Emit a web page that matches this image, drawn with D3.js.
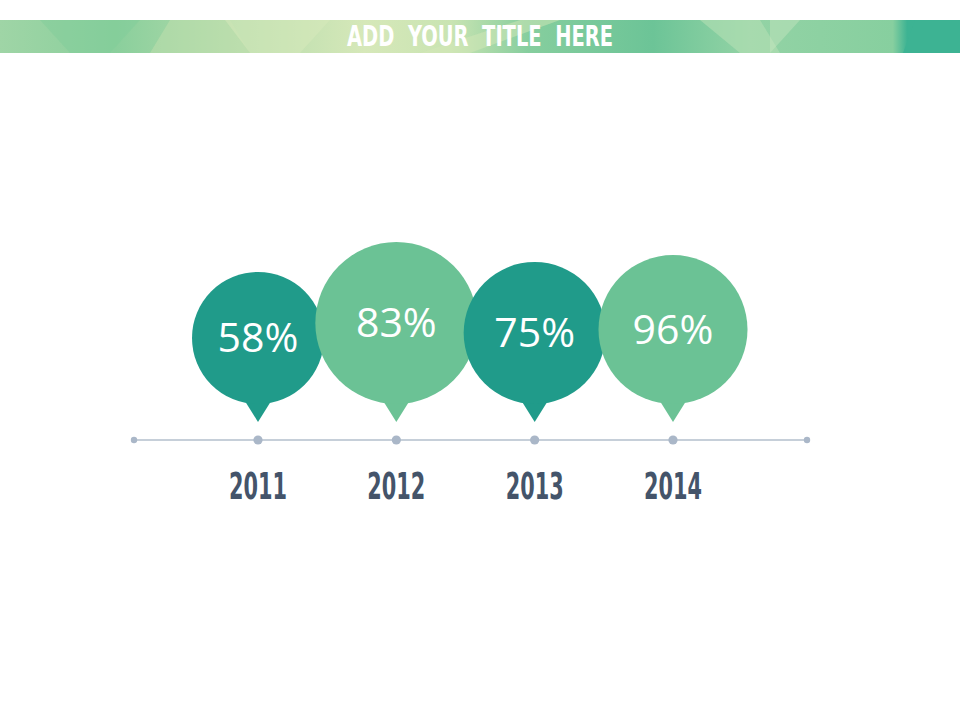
<!DOCTYPE html>
<html>
<head>
<meta charset="utf-8">
<script src="https://cdn.jsdelivr.net/npm/d3@7"></script>
<style>
  html, body { margin: 0; padding: 0; background: #ffffff; }
  svg { display: block; }
</style>
</head>
<body>
<svg id="chart" width="960" height="720"></svg>
<script>
// ---- data ----
const years = [2011, 2012, 2013, 2014];
const values = [58, 83, 75, 96];
const valueLabels = ["58%", "83%", "75%", "96%"];
const title = "ADD  YOUR  TITLE  HERE";

// ---- layout / style ----
const W = 960, H = 720;
const bubbleRadii = [66, 81, 71, 74.5];
const bubbleColors = ["#209b8a", "#6bc295", "#209b8a", "#6bc295"];
const axisY = 440, tipY = 422, tipH = 18, tipHalf = 15;

const svg = d3.select("#chart");

// ---- banner ----
const defs = svg.append("defs");
const grad = defs.append("linearGradient").attr("id", "bannerGrad")
  .attr("x1", "0%").attr("x2", "100%").attr("y1", "0%").attr("y2", "0%");
[
  [0, "#9fd5a6"], [0.12, "#8acf9c"], [0.25, "#b5dcac"], [0.38, "#d6e8b9"],
  [0.47, "#c9e4b2"], [0.55, "#86ce9e"], [0.68, "#6cc497"], [0.78, "#93d3a5"],
  [0.93, "#87cf9f"], [0.945, "#3db393"], [1, "#3bb393"]
].forEach(([o, c]) => grad.append("stop").attr("offset", o).attr("stop-color", c));

svg.append("rect").attr("x", 0).attr("y", 20).attr("width", W).attr("height", 33)
  .attr("fill", "url(#bannerGrad)");

const facets = [
  { pts: [[40, 20], [140, 20], [110, 53], [70, 53]], fill: "#7fcb98", op: 0.45 },
  { pts: [[150, 53], [170, 20], [230, 20], [250, 53]], fill: "#c2e0ae", op: 0.5 },
  { pts: [[225, 20], [330, 20], [300, 53], [250, 53]], fill: "#d8e9bb", op: 0.5 },
  { pts: [[420, 53], [520, 20], [560, 20], [470, 53]], fill: "#d4e7b8", op: 0.5 },
  { pts: [[700, 20], [760, 20], [780, 53], [740, 53]], fill: "#b4dfb4", op: 0.6 },
  { pts: [[770, 20], [800, 20], [770, 53]], fill: "#cde8c4", op: 0.4 },
  { pts: [[915, 20], [960, 20], [960, 53], [903, 53]], fill: "#3db393", op: 1 }
];
svg.append("g").selectAll("polygon").data(facets).join("polygon")
  .attr("points", d => d.pts.map(p => p.join(",")).join(" "))
  .attr("fill", d => d.fill).attr("opacity", d => d.op);

svg.append("text")
  .attr("x", 480).attr("y", 46)
  .attr("text-anchor", "middle")
  .attr("font-family", "'Liberation Sans Narrow', 'DejaVu Sans Condensed', sans-serif")
  .attr("font-weight", "bold")
  .attr("font-size", 28)
  .attr("fill", "#ffffff")
  .attr("textLength", 266).attr("lengthAdjust", "spacingAndGlyphs")
  .style("white-space", "pre")
  .text(title);

// ---- scales ----
const x = d3.scaleLinear().domain([2011, 2014]).range([258, 673]);
const axisEnds = [134, 807];

// ---- axis ----
svg.append("line")
  .attr("x1", axisEnds[0]).attr("x2", axisEnds[1])
  .attr("y1", axisY).attr("y2", axisY)
  .attr("stroke", "#b3bfcd").attr("stroke-width", 1.5);

svg.append("g").selectAll("circle.end").data(axisEnds).join("circle")
  .attr("cx", d => d).attr("cy", axisY).attr("r", 3.2).attr("fill", "#aab7c8");

svg.append("g").selectAll("circle.tick").data(years).join("circle")
  .attr("cx", d => x(d)).attr("cy", axisY).attr("r", 4.6).attr("fill", "#aab7c8");

svg.append("g").selectAll("text").data(years).join("text")
  .attr("x", d => x(d)).attr("y", 499)
  .attr("text-anchor", "middle")
  .attr("font-family", "'Liberation Sans Narrow', 'DejaVu Sans Condensed', sans-serif")
  .attr("font-weight", "bold")
  .attr("font-size", 37)
  .attr("fill", "#44546a")
  .attr("textLength", 58).attr("lengthAdjust", "spacingAndGlyphs")
  .text(d => d);

// ---- bubbles ----
const bubbles = years.map((yr, i) => {
  const r = bubbleRadii[i];
  const cx = x(yr);
  const cy = tipY - tipH - r;
  return { yr, v: values[i], label: valueLabels[i], r, cx, cy, color: bubbleColors[i] };
});

const bg = svg.append("g").selectAll("g").data(bubbles).join("g");
bg.append("path")
  .attr("d", d => {
    const by = d.cy + d.r;
    return `M${d.cx - tipHalf},${by - 6} L${d.cx + tipHalf},${by - 6} L${d.cx},${tipY} Z`;
  })
  .attr("fill", d => d.color);
bg.append("circle")
  .attr("cx", d => d.cx).attr("cy", d => d.cy).attr("r", d => d.r)
  .attr("fill", d => d.color);
bg.append("text")
  .attr("x", d => d.cx).attr("y", d => d.cy + 14)
  .attr("text-anchor", "middle")
  .attr("font-family", "'Open Sans', 'Noto Sans', sans-serif")
  .attr("font-size", 41)
  .attr("fill", "#ffffff")
  .text(d => d.label);
</script>
</body>
</html>
